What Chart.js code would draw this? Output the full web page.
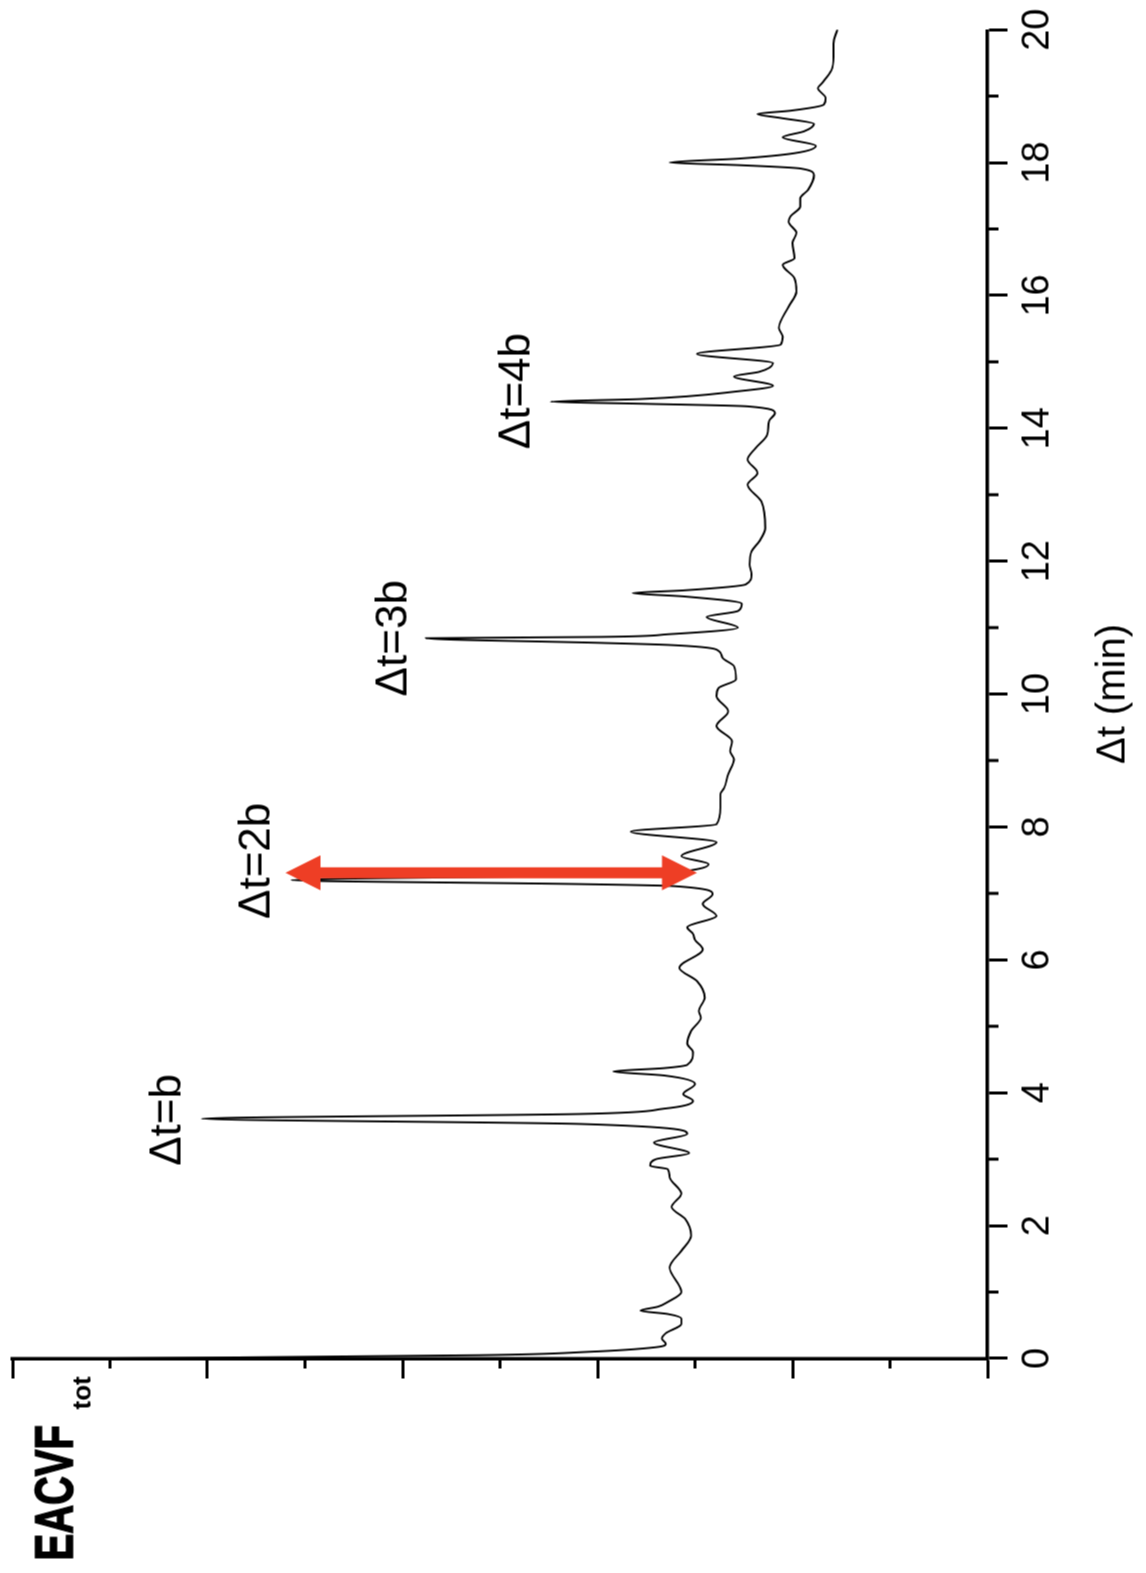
<!DOCTYPE html>
<html>
<head>
<meta charset="utf-8">
<script src="https://cdn.jsdelivr.net/npm/chart.js@4.4.1/dist/chart.umd.min.js"></script>
<style>
  html, body { margin: 0; padding: 0; background: #fff; overflow: hidden; }
  body { width: 1146px; height: 1573px; position: relative; }
  /* the figure is drawn landscape and turned a quarter turn to the left */
  .turned {
    position: absolute; width: 1573px; height: 1146px;
    left: -213.5px; top: 213.5px;
    transform: rotate(-90deg);
  }
</style>
</head>
<body>
<div class="turned"><canvas id="acvf" width="1573" height="1146"></canvas></div>
<script>
// Δt (min) and EACVF_tot
const dtValues = [
  0.00, 0.05, 0.10, 0.17, 0.22, 0.30, 0.38, 0.52, 0.60, 0.67, 0.72, 0.78, 0.85, 1.00,
  1.37, 1.62, 1.85, 2.10, 2.28, 2.48, 2.73, 2.85, 2.90, 3.00, 3.09, 3.25, 3.38, 3.53,
  3.61, 3.68, 3.76, 3.88, 3.98, 4.13, 4.26, 4.32, 4.37, 4.42, 4.61, 4.74, 4.93, 5.13,
  5.23, 5.43, 5.68, 5.88, 6.16, 6.30, 6.39, 6.49, 6.66, 6.84, 6.99, 7.11, 7.14, 7.20,
  7.27, 7.32, 7.37, 7.44, 7.56, 7.77, 7.93, 8.04, 8.29, 8.49, 8.59, 8.79, 9.02, 9.14,
  9.29, 9.52, 9.74, 9.97, 10.09, 10.22, 10.42, 10.55, 10.67, 10.74, 10.77, 10.84, 10.86, 10.90,
  11.00, 11.16, 11.25, 11.36, 11.47, 11.52, 11.56, 11.65, 11.80, 11.95, 12.15, 12.30, 12.50, 12.90,
  13.15, 13.33, 13.53, 13.70, 13.90, 14.11, 14.23, 14.33, 14.37, 14.40, 14.44, 14.56, 14.64, 14.78,
  14.85, 14.98, 15.12, 15.26, 15.38, 15.51, 15.83, 16.06, 16.26, 16.46, 16.56, 16.79, 16.94, 17.11,
  17.19, 17.34, 17.46, 17.59, 17.81, 17.91, 17.96, 18.00, 18.06, 18.14, 18.25, 18.38, 18.47, 18.58,
  18.67, 18.73, 18.78, 18.87, 18.97, 19.12, 19.19, 19.39, 19.59, 19.79, 20.00
];
const eacvfValues = [
  4.52, 2.60, 2.05, 1.70, 1.65, 1.67, 1.65, 1.57, 1.57, 1.64, 1.78, 1.69, 1.64, 1.57,
  1.63, 1.57, 1.52, 1.55, 1.62, 1.57, 1.63, 1.64, 1.73, 1.70, 1.53, 1.71, 1.54, 2.09,
  4.03, 2.09, 1.66, 1.51, 1.56, 1.50, 1.66, 1.92, 1.66, 1.54, 1.51, 1.54, 1.52, 1.47,
  1.48, 1.45, 1.49, 1.58, 1.46, 1.50, 1.51, 1.54, 1.39, 1.46, 1.41, 1.61, 2.09, 3.57,
  2.05, 1.62, 1.48, 1.43, 1.57, 1.39, 1.83, 1.39, 1.37, 1.37, 1.35, 1.33, 1.30, 1.32,
  1.31, 1.39, 1.33, 1.39, 1.38, 1.29, 1.30, 1.36, 1.39, 1.64, 1.98, 2.88, 1.98, 1.64,
  1.28, 1.44, 1.28, 1.26, 1.56, 1.82, 1.56, 1.24, 1.21, 1.22, 1.21, 1.17, 1.14, 1.16,
  1.23, 1.18, 1.23, 1.19, 1.13, 1.12, 1.09, 1.23, 1.78, 2.24, 1.78, 1.27, 1.10, 1.30,
  1.17, 1.10, 1.49, 1.06, 1.05, 1.07, 1.02, 0.98, 0.99, 1.05, 0.99, 1.00, 0.98, 1.02,
  1.01, 0.96, 0.96, 0.92, 0.89, 0.96, 1.27, 1.63, 1.27, 0.99, 0.88, 1.05, 0.94, 0.89,
  1.06, 1.18, 1.01, 0.84, 0.83, 0.87, 0.85, 0.80, 0.79, 0.79, 0.77
];

// peak labels: text, Δt of the label centre, EACVF level of its baseline
const peakLabels = ['Δt=b', 'Δt=2b', 'Δt=3b', 'Δt=4b'];
const peakLabelDt = [3.59, 7.49, 10.84, 14.56];
const peakLabelLevel = [4.14, 3.68, 2.98, 2.35];

// red double arrow at the Δt=2b peak
const arrowDt = 7.31;
const arrowFrom = 3.60;
const arrowTo = 1.49;

const FONT = '"Liberation Sans", Arial, Helvetica, sans-serif';

const extras = {
  id: 'extras',
  afterDraw(chart) {
    const { ctx, scales: { x, y } } = chart;
    ctx.save();

    // minor ticks
    ctx.strokeStyle = '#000';
    ctx.lineWidth = 3;
    ctx.beginPath();
    for (let t = 1; t < 20; t += 2) {
      const px = x.getPixelForValue(t);
      ctx.moveTo(px, x.top); ctx.lineTo(px, x.top + 11);
    }
    for (let v = 0.5; v < 5; v += 1) {
      const py = y.getPixelForValue(v);
      ctx.moveTo(y.right, py); ctx.lineTo(y.right - 10, py);
    }
    ctx.stroke();

    // peak labels
    ctx.fillStyle = '#000';
    ctx.font = '44px ' + FONT;
    ctx.textAlign = 'center';
    ctx.textBaseline = 'alphabetic';
    peakLabels.forEach((txt, i) => {
      ctx.fillText(txt, x.getPixelForValue(peakLabelDt[i]), y.getPixelForValue(peakLabelLevel[i]));
    });

    // double arrow
    const ax = x.getPixelForValue(arrowDt);
    const y1 = y.getPixelForValue(arrowFrom);
    const y2 = y.getPixelForValue(arrowTo);
    const head = 35, half = 17.5, shaft = 5.5;
    ctx.fillStyle = '#ee3e25';
    ctx.beginPath();
    ctx.moveTo(ax, y1);
    ctx.lineTo(ax + half, y1 + head);
    ctx.lineTo(ax + shaft, y1 + head);
    ctx.lineTo(ax + shaft, y2 - head);
    ctx.lineTo(ax + half, y2 - head);
    ctx.lineTo(ax, y2);
    ctx.lineTo(ax - half, y2 - head);
    ctx.lineTo(ax - shaft, y2 - head);
    ctx.lineTo(ax - shaft, y1 + head);
    ctx.lineTo(ax - half, y1 + head);
    ctx.closePath();
    ctx.fill();

    // y label, EACVF with subscript tot
    ctx.fillStyle = '#000';
    ctx.strokeStyle = '#000';
    ctx.textAlign = 'left';
    ctx.save();
    ctx.translate(13, 72);
    ctx.scale(0.74, 1);
    ctx.font = 'bold 54px ' + FONT;
    ctx.lineWidth = 1.5;
    ctx.fillText('EACVF', 0, 0);
    ctx.strokeText('EACVF', 0, 0);
    ctx.restore();
    ctx.font = 'bold 26px ' + FONT;
    ctx.fillText('tot', 164, 90);

    ctx.restore();
  }
};

new Chart(document.getElementById('acvf'), {
  type: 'line',
  data: {
    datasets: [{
      data: dtValues.map((t, i) => ({ x: t, y: eacvfValues[i] })),
      borderColor: '#000',
      borderWidth: 1.9,
      pointRadius: 0,
      cubicInterpolationMode: 'monotone',
      fill: false
    }]
  },
  options: {
    responsive: false,
    animation: false,
    layout: { padding: { top: 12, right: 28, left: 0, bottom: 0 } },
    plugins: { legend: { display: false }, tooltip: { enabled: false } },
    scales: {
      x: {
        type: 'linear', min: 0, max: 20,
        ticks: { stepSize: 2, color: '#000', padding: 8, font: { family: FONT, size: 38 }, maxRotation: 0 },
        grid: { drawOnChartArea: false, tickLength: 20, tickWidth: 3, tickColor: '#000' },
        border: { color: '#000', width: 3.5 },
        title: { display: true, text: 'Δt (min)', color: '#000', font: { family: FONT, size: 40 }, padding: { top: 0, bottom: 9 } },
        afterFit: s => { s.height = 159; }
      },
      y: {
        type: 'linear', min: 0, max: 5,
        ticks: { stepSize: 1, display: false },
        grid: { drawOnChartArea: false, tickLength: 20, tickWidth: 3, tickColor: '#000' },
        border: { color: '#000', width: 3.5 },
        afterFit: s => { s.width = 215; }
      }
    }
  },
  plugins: [extras]
});
</script>
</body>
</html>
